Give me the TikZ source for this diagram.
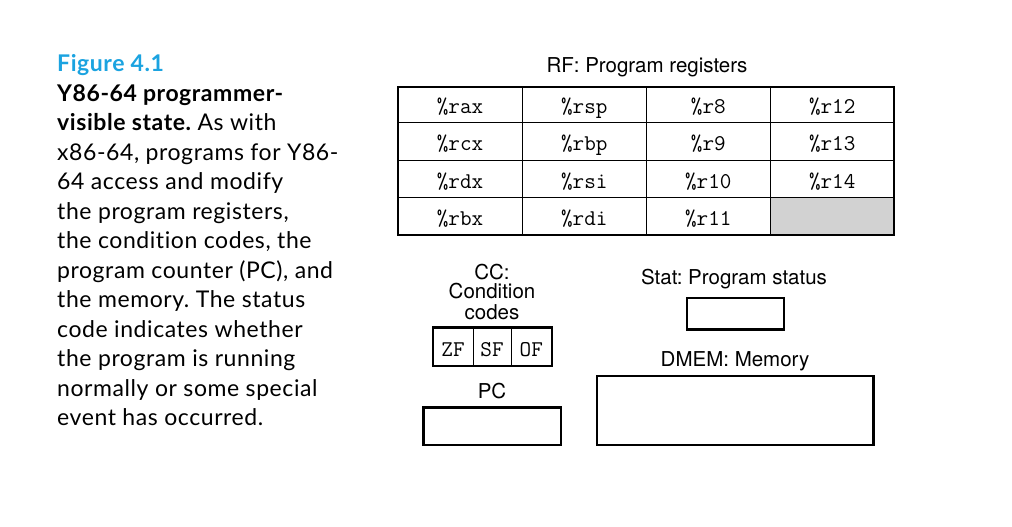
\documentclass[tikz,border=0pt]{standalone}
\usepackage{fontspec}
\setsansfont{TeX Gyre Heros}
\newfontfamily\capfont[LetterSpace=2.5,Ligatures={NoCommon,NoContextual}]{Lato}
\definecolor{figblue}{RGB}{27,163,224}
\definecolor{cellgray}{RGB}{210,210,210}
\frenchspacing
\begin{document}
\begin{tikzpicture}[x=1pt,y=-1pt,
  lbl/.style={font=\sffamily\fontsize{20.5}{20.5}\selectfont, anchor=base, inner sep=0pt},
  reg/.style={font=\ttfamily\fontsize{22.5}{22.5}\selectfont, anchor=base, inner sep=0pt},
  thick box/.style={draw=black, line width=2.4pt},
  thin line/.style={draw=black, line width=1pt},
  capline/.style={font=\capfont\fontsize{23}{23}\selectfont, anchor=base west, inner sep=0pt}]
\useasboundingbox (0,0) rectangle (1012,527);
% caption
\node[capline, text=figblue] (cap0) at (57,71.7) {\bfseries Figure 4.1};
\node[capline] (cap1) at (57,101.3) {\bfseries Y86-64 programmer-};
\node[capline] (cap2) at (57,130.8) {{\bfseries visible state.} As with};
\node[capline] (cap3) at (57,160.3) {x86-64, programs for Y86-};
\node[capline] (cap4) at (57,189.8) {64 access and modify};
\node[capline] (cap5) at (57,219.3) {the program registers,};
\node[capline] (cap6) at (57,248.8) {the condition codes, the};
\node[capline] (cap7) at (57,278.3) {program counter (PC), and};
\node[capline] (cap8) at (57,307.8) {the memory. The status};
\node[capline] (cap9) at (57,337.3) {code indicates whether};
\node[capline] (cap10) at (57,366.8) {the program is running};
\node[capline] (cap11) at (57,396.3) {normally or some special};
\node[capline] (cap12) at (57,425.8) {event has occurred.};
% register file
\node[lbl] (rftitle) at (647,72.5) {RF: Program registers};
\fill[cellgray] (770.3,197.3) rectangle (894,235);
\foreach \x in {522.3,646.3,770.3} \draw[thin line] (\x,86.7) -- (\x,235);
\foreach \y in {122.3,160,197.3} \draw[thin line] (397.7,\y) -- (894,\y);
\draw[thick box] (397.7,86.7) rectangle (894,235);
\node[reg] (rax) at (460,113.5) {\%rax};
\node[reg] (rsp) at (584.3,113.5) {\%rsp};
\node[reg] (r8)  at (708.3,113.5) {\%r8};
\node[reg] (r12) at (832.2,113.5) {\%r12};
\node[reg] (rcx) at (460,150.7) {\%rcx};
\node[reg] (rbp) at (584.3,150.7) {\%rbp};
\node[reg] (r9)  at (708.3,150.7) {\%r9};
\node[reg] (r13) at (832.2,150.7) {\%r13};
\node[reg] (rdx) at (460,188.2) {\%rdx};
\node[reg] (rsi) at (584.3,188.2) {\%rsi};
\node[reg] (r10) at (708.3,188.2) {\%r10};
\node[reg] (r14) at (832.2,188.2) {\%r14};
\node[reg] (rbx) at (460,225.7) {\%rbx};
\node[reg] (rdi) at (584.3,225.7) {\%rdi};
\node[reg] (r11) at (708.3,225.7) {\%r11};
% condition codes
\node[lbl] (cc1) at (492,279) {CC:};
\node[lbl] (cc2) at (492,298.5) {Condition};
\node[lbl] (cc3) at (492,319) {codes};
\draw[thin line] (473,327.3) -- (473,366);
\draw[thin line] (511,327.3) -- (511,366);
\draw[thick box] (432.7,327.3) rectangle (551.7,366);
\node[reg] (zf) at (453,356) {ZF};
\node[reg] (sf) at (492,356) {SF};
\node[reg] (of) at (531.3,356) {OF};
% PC
\node[lbl] (pclbl) at (492,398.3) {PC};
\draw[thick box] (423.3,407.3) rectangle (561,445);
% status
\node[lbl] (statlbl) at (734,284.5) {Stat: Program status};
\draw[thick box] (686.7,297.7) rectangle (784,329.3);
% memory
\node[lbl] (memlbl) at (735,366.5) {DMEM: Memory};
\draw[thick box] (596.7,375.7) rectangle (873.3,445);
\end{tikzpicture}
\end{document}
